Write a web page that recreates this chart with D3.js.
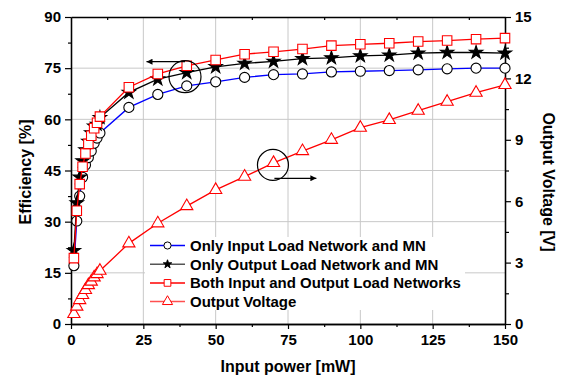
<!DOCTYPE html>
<html>
<head>
<meta charset="utf-8">
<script src="https://cdn.jsdelivr.net/npm/d3@7"></script>
<style>
  body { margin: 0; background: #fff; }
  svg { display: block; font-family: "Liberation Sans", Arial, sans-serif; font-weight: bold; }
</style>
</head>
<body>
<svg width="565" height="381"></svg>
<script>
var power = [1, 2, 3, 4, 5, 6, 7, 8, 9, 10, 20, 30, 40, 50, 60, 70, 80, 90, 100, 110, 120, 130, 140, 150];
var effInput = [17.1, 30.2, 37.5, 43.0, 46.6, 48.8, 50.7, 53.0, 54.5, 56.0, 63.5, 67.3, 69.8, 71.0, 72.3, 73.1, 73.3, 73.9, 74.1, 74.3, 74.5, 74.8, 75.0, 75.0];
var effOutput = [21.5, 35.5, 43.0, 47.8, 51.0, 53.5, 56.0, 58.0, 58.5, 60.5, 67.9, 71.8, 73.7, 75.4, 76.4, 77.0, 77.8, 78.0, 78.6, 78.8, 79.4, 79.6, 79.6, 79.4];
var effBoth = [19.3, 33.2, 41.0, 46.1, 50.0, 52.8, 55.2, 57.4, 59.0, 60.8, 69.4, 73.3, 75.7, 77.4, 79.1, 79.8, 80.6, 81.6, 82.0, 82.3, 82.8, 83.1, 83.5, 83.8];
var vout = [0.49, 0.85, 1.17, 1.42, 1.66, 1.9, 2.07, 2.28, 2.44, 2.6, 3.94, 4.92, 5.76, 6.55, 7.2, 7.87, 8.45, 9.0, 9.59, 9.97, 10.42, 10.86, 11.3, 11.68];

var xTicks = [0, 25, 50, 75, 100, 125, 150];
var yTicks = [0, 15, 30, 45, 60, 75, 90];
var vTicks = [0, 3, 6, 9, 12, 15];
var legendNames = ["Only Input Load Network and MN", "Only Output Load Network and MN",
  "Both Input and Output Load Networks", "Output Voltage"];

(function () {
var pLeft = 71, pRight = 505, pTop = 17, pBottom = 324;

var svg = d3.select("svg");

var x = d3.scaleLinear().domain([0, 150]).range([pLeft, pRight]);
var y = d3.scaleLinear().domain([0, 90]).range([pBottom, pTop]);
var yv = d3.scaleLinear().domain([0, 15]).range([pBottom, pTop]);

// grid
svg.append("g")
  .selectAll("line")
  .data(xTicks.slice(1, -1))
  .join("line")
  .attr("x1", d => x(d)).attr("x2", d => x(d))
  .attr("y1", pTop).attr("y2", pBottom)
  .attr("stroke", "#c8c8c8").attr("stroke-width", 1);
svg.append("g")
  .selectAll("line")
  .data(yTicks.slice(1, -1))
  .join("line")
  .attr("x1", pLeft).attr("x2", pRight)
  .attr("y1", d => y(d)).attr("y2", d => y(d))
  .attr("stroke", "#c8c8c8").attr("stroke-width", 1);

function minor(ticks) {
  var out = [];
  for (var i = 0; i < ticks.length - 1; i++) out.push((ticks[i] + ticks[i + 1]) / 2);
  return out;
}

function styleAxis(g) {
  g.selectAll(".domain").attr("stroke", "#000").attr("stroke-width", 1.3);
  g.selectAll(".tick line").attr("stroke", "#000").attr("stroke-width", 1.2);
  g.selectAll("text").attr("font-size", "15px").attr("font-weight", "bold")
    .attr("font-family", "Liberation Sans, Arial, sans-serif").attr("fill", "#000");
}

// bottom
svg.append("g").attr("transform", "translate(0," + pBottom + ")")
  .call(d3.axisBottom(x).tickValues(xTicks).tickSize(5).tickSizeOuter(0).tickPadding(5))
  .call(styleAxis);
svg.append("g").attr("transform", "translate(0," + pBottom + ")")
  .call(d3.axisBottom(x).tickValues(minor(xTicks)).tickSize(3).tickFormat("").tickSizeOuter(0))
  .call(styleAxis);
// top
svg.append("g").attr("transform", "translate(0," + pTop + ")")
  .call(d3.axisBottom(x).tickValues(minor(xTicks)).tickSize(3).tickFormat("").tickSizeOuter(0))
  .call(styleAxis);
// left
svg.append("g").attr("transform", "translate(" + pLeft + ",0)")
  .call(d3.axisLeft(y).tickValues(yTicks).tickSize(6).tickSizeOuter(0).tickPadding(4))
  .call(styleAxis);
svg.append("g").attr("transform", "translate(" + pLeft + ",0)")
  .call(d3.axisLeft(y).tickValues(minor(yTicks)).tickSize(3).tickFormat("").tickSizeOuter(0))
  .call(styleAxis);
// right
svg.append("g").attr("transform", "translate(" + pRight + ",0)")
  .call(d3.axisRight(yv).tickValues(vTicks).tickSize(6).tickSizeOuter(0).tickPadding(4))
  .call(styleAxis);
svg.append("g").attr("transform", "translate(" + pRight + ",0)")
  .call(d3.axisRight(yv).tickValues(minor(vTicks)).tickSize(4).tickFormat("").tickSizeOuter(0))
  .call(styleAxis);

// axis titles
svg.append("text").attr("x", 288).attr("y", 372).attr("text-anchor", "middle")
  .attr("font-size", "16px").text("Input power [mW]");
svg.append("text").attr("transform", "translate(31,172) rotate(-90)").attr("text-anchor", "middle")
  .attr("font-size", "16px").text("Efficiency [%]");
svg.append("text").attr("transform", "translate(543,182) rotate(90)").attr("text-anchor", "middle")
  .attr("font-size", "16px").text("Output Voltage [V]");

var series = [
  { vals: effInput, scale: y, line: "#0000ff", sym: d3.symbolCircle, size: 80, fill: "#fff", stroke: "#000" },
  { vals: effOutput, scale: y, line: "#000", sym: d3.symbolStar, size: 55, fill: "#000", stroke: "#000" },
  { vals: effBoth, scale: y, line: "#ff0000", sym: d3.symbolSquare, size: 90, fill: "#fff", stroke: "#ff0000" },
  { vals: vout, scale: yv, line: "#ff0000", sym: d3.symbolTriangle, size: 65, fill: "#fff", stroke: "#ff0000" }
];

series.forEach(function (s) {
  var line = d3.line().x((d, i) => x(power[i])).y(d => s.scale(d));
  svg.append("path").attr("d", line(s.vals)).attr("fill", "none")
    .attr("stroke", s.line).attr("stroke-width", 1.3);
  svg.append("g").selectAll("path")
    .data(s.vals)
    .join("path")
    .attr("transform", (d, i) => "translate(" + x(power[i]) + "," + s.scale(d) + ")")
    .attr("d", d3.symbol().type(s.sym).size(s.size))
    .attr("fill", s.fill).attr("stroke", s.stroke).attr("stroke-width", 1.1);
});

// annotations
svg.append("circle").attr("cx", x(39.4)).attr("cy", y(72.5)).attr("r", 16)
  .attr("fill", "none").attr("stroke", "#000").attr("stroke-width", 1.2);
svg.append("circle").attr("cx", x(69.8)).attr("cy", yv(7.77)).attr("r", 15.5)
  .attr("fill", "none").attr("stroke", "#000").attr("stroke-width", 1.2);

svg.append("defs").append("marker").attr("id", "ah")
  .attr("viewBox", "0 0 10 10").attr("refX", 10).attr("refY", 5)
  .attr("markerWidth", 9).attr("markerHeight", 6).attr("markerUnits", "userSpaceOnUse")
  .attr("orient", "auto")
  .append("path").attr("d", "M0,0L10,5L0,10Z").attr("fill", "#000");

svg.append("line").attr("x1", x(39.4)).attr("x2", x(26.1))
  .attr("y1", y(76.9)).attr("y2", y(76.9))
  .attr("stroke", "#000").attr("stroke-width", 1.2).attr("marker-end", "url(#ah)");
svg.append("line").attr("x1", x(70.3)).attr("x2", x(84.8))
  .attr("y1", yv(7.12)).attr("y2", yv(7.12))
  .attr("stroke", "#000").attr("stroke-width", 1.2).attr("marker-end", "url(#ah)");

// legend
var legend = svg.append("g");
legend.append("rect").attr("x", 145).attr("y", 237).attr("width", 320).attr("height", 73)
  .attr("fill", "#fff");
var legLines = ["#0000ff", "#555", "#ff0000", "#ff5050"];
var legSym = [d3.symbolCircle, d3.symbolStar, d3.symbolSquare, d3.symbolTriangle];
var legSize = [40, 22, 45, 45];
var legFill = ["#fff", "#000", "#fff", "#fff"];
var legStroke = ["#000", "#000", "#ff0000", "#ff0000"];
legendNames.forEach(function (name, i) {
  var ly = 245.5 + i * 18.7;
  legend.append("line").attr("x1", 150).attr("x2", 185).attr("y1", ly).attr("y2", ly)
    .attr("stroke", legLines[i]).attr("stroke-width", 1.5);
  legend.append("path").attr("transform", "translate(167.5," + ly + ")")
    .attr("d", d3.symbol().type(legSym[i]).size(legSize[i])())
    .attr("fill", legFill[i]).attr("stroke", legStroke[i]).attr("stroke-width", 1);
  legend.append("text").attr("x", 190).attr("y", ly + 5.5).attr("font-size", "15px").text(name);
});
})();
</script>
</body>
</html>
